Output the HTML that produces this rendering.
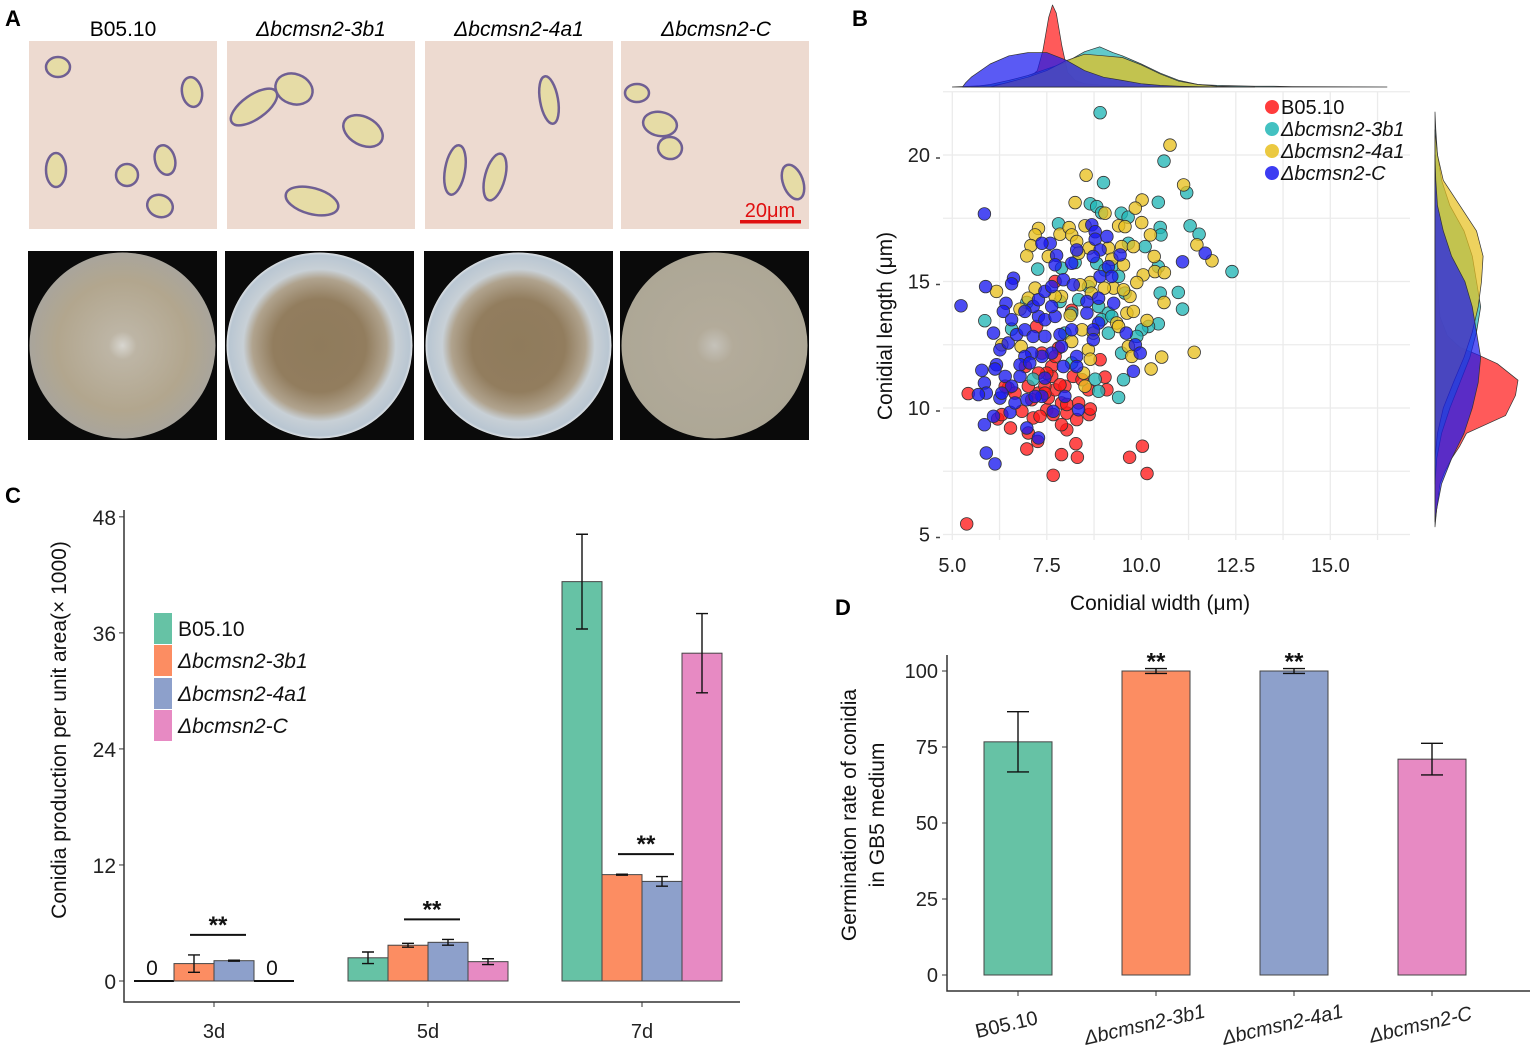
<!DOCTYPE html>
<html><head><meta charset="utf-8"><style>
html,body{margin:0;padding:0;background:#fff;}
svg{display:block;font-family:"Liberation Sans",Arial,sans-serif;}
</style></head><body>
<svg id="fig" width="1535" height="1049" viewBox="0 0 1535 1049" xmlns="http://www.w3.org/2000/svg">
<defs>
<radialGradient id="g1" cx="50%" cy="50%" r="50%"><stop offset="0" stop-color="#d8d6d0"/><stop offset="0.15" stop-color="#bdb5a5"/><stop offset="0.7" stop-color="#b2a68e"/><stop offset="1" stop-color="#a9a59c"/></radialGradient>
<radialGradient id="g2" cx="50%" cy="50%" r="50%"><stop offset="0" stop-color="#8f7b5c"/><stop offset="0.5" stop-color="#927d5e"/><stop offset="0.72" stop-color="#b0a38e"/><stop offset="0.82" stop-color="#c8d0d6"/><stop offset="0.97" stop-color="#b9c6d2"/><stop offset="1" stop-color="#dfe3e6"/></radialGradient>
<radialGradient id="g4" cx="50%" cy="50%" r="50%"><stop offset="0" stop-color="#c5c2ba"/><stop offset="0.2" stop-color="#b3ab9a"/><stop offset="1" stop-color="#ada796"/></radialGradient>
</defs>
<g id="panelA">
<text x="5" y="26" font-size="22" font-weight="bold">A</text>
<text x="123" y="36" font-size="21" text-anchor="middle">B05.10</text>
<text x="321" y="36" font-size="21" text-anchor="middle" font-style="italic">Δbcmsn2-3b1</text>
<text x="519" y="36" font-size="21" text-anchor="middle" font-style="italic">Δbcmsn2-4a1</text>
<text x="716" y="36" font-size="21" text-anchor="middle" font-style="italic">Δbcmsn2-C</text>
<g id="micro"></g>
<g id="plates"></g>
<text x="770" y="217" font-size="20" fill="#e01010" text-anchor="middle">20μm</text>
<rect x="740" y="220" width="61" height="3.5" fill="#e01010"/>
</g>
<g id="panelB"></g>
<g id="panelC"></g>
<g id="panelD"></g>
</svg>
<script>
// ---------- Panel B data ----------
const bSeriesNames = ["B05.10","Δbcmsn2-3b1","Δbcmsn2-4a1","Δbcmsn2-C"];
const redW = [5.38,7.67,10.15,9.69,10.03,6.97,7.89,8.31,8.27,7.26,8.03,6.54,6.2,5.42,6.48,6.84,7.14,7.5,7.67,8.03,8.29,8.62,8.65,7.89,7.54,7.28,7.72,7.98,7.45,7.01,6.66,9.04,9.09,8.6,8.91,8.2,7.63,7.37,7.81,7.63,7.23,8.16,7.72,7.5,7.85,7.28,6.93,8.03,8.43,7.72,7.1,6.31,6.4,8.34,7.32,7.89,7.01,7.45];
const redL = [5.42,7.34,7.41,8.05,8.49,8.38,8.16,8.05,8.59,8.68,9.14,9.21,9.57,10.57,10.79,9.87,9.61,9.93,9.74,9.8,9.54,9.74,9.96,10.2,10.4,10.59,10.72,10.86,10.86,10.86,10.59,11.22,10.72,10.72,11.91,11.25,11.64,12.17,12.37,11.25,13.22,13.86,15.0,11.38,10.92,11.38,11.64,10.14,11.12,12.04,10.33,9.74,10.86,10.2,9.67,9.34,9.01,10.59];
const tealW = [8.91,10.6,9.0,11.2,8.65,8.82,8.95,9.47,9.65,10.45,7.81,10.5,10.52,11.29,11.53,10.1,9.66,7.26,8.82,9.22,10.45,12.4,10.5,10.98,11.09,5.86,6.57,6.97,7.85,8.16,8.87,9.13,8.95,9.13,7.98,10.45,10.19,10.01,9.48,9.88,7.14,8.78,8.87,9.53,9.4,8.16,8.34,8.6,7.89,8.25,9.4,9.04,9.57,9.22];
const tealL = [21.67,19.76,18.91,18.51,18.07,17.96,17.72,17.7,17.54,18.13,17.28,17.14,16.84,17.2,16.87,16.38,16.51,15.49,15.72,15.59,15.59,15.39,14.54,14.57,13.91,13.45,13.12,14.17,14.21,13.75,14.01,13.75,13.49,12.96,12.96,13.33,13.22,13.09,12.17,12.83,11.14,11.14,10.66,11.12,10.42,11.78,14.28,14.8,15.53,15.75,15.2,15.46,14.54,13.62];
const yelW = [10.76,8.54,11.12,8.25,10.02,9.84,9.04,10.01,9.4,9.57,7.28,7.19,7.85,8.09,8.16,8.51,10.24,11.47,11.87,7.08,6.97,7.54,8.29,8.62,9.13,9.48,9.79,10.34,9.22,9.53,10.05,10.36,10.61,9.88,8.34,8.65,9.27,9.7,9.53,7.19,7.01,6.17,6.79,7.89,8.68,8.38,8.12,8.43,8.73,9.35,9.62,9.79,10.15,9.4,6.31,8.6,8.65,9.66,9.75,10.54,10.26,11.4,8.51,8.47,8.16,6.82,10.6,9.02,7.72];
const yelL = [20.39,19.2,18.82,18.12,18.22,17.9,17.7,17.33,17.2,17.17,17.1,16.84,16.87,17.13,16.84,17.2,16.84,16.45,15.82,16.42,16.01,15.99,16.58,16.32,16.32,16.38,16.38,15.99,15.88,15.66,15.26,15.39,15.35,14.96,16.12,14.96,14.74,14.41,14.67,14.74,14.34,14.61,13.91,14.41,14.54,14.87,13.66,13.09,12.96,13.36,13.75,13.82,13.46,13.22,12.5,12.3,11.93,12.43,12.04,12.01,11.54,12.2,10.86,11.38,12.63,12.43,14.17,14.74,14.41];
const bluW = [5.85,5.23,5.88,6.62,6.57,6.42,6.35,6.57,6.09,6.26,6.48,6.7,6.92,7.14,7.28,7.45,7.72,7.63,7.14,6.92,7.28,7.45,7.63,7.94,8.2,8.16,7.76,7.59,7.37,7.72,8.69,8.78,8.78,9.09,8.91,8.73,9.13,9.44,8.29,8.91,9.22,8.56,8.87,9.27,8.56,8.87,8.73,8.73,9.6,9.84,9.97,9.79,11.09,11.69,7.85,7.89,7.63,7.37,7.1,6.92,6.79,7.05,6.17,5.78,6.13,6.4,5.85,5.9,5.69,6.26,6.57,6.79,6.97,7.37,7.45,7.94,8.29,8.29,7.98,7.67,8.34,6.53,6.09,5.85,6.97,7.28,5.9,6.13,6.31,6.66,7.19,7.45,8.16];
const bluL = [17.67,14.04,14.8,15.13,14.91,14.14,13.82,13.49,12.96,12.3,12.57,12.9,13.09,12.83,13.62,13.49,13.62,14.01,14.01,13.82,14.28,14.61,14.8,15.07,14.87,15.72,16.03,16.51,16.51,15.66,17.24,16.97,16.67,16.78,16.25,15.99,15.59,16.05,16.25,15.2,15.2,14.21,14.34,14.14,13.75,13.36,13.09,12.7,12.96,12.5,12.17,11.45,15.78,16.12,12.9,12.43,12.17,12.04,12.17,12.04,11.71,11.78,11.71,11.49,11.54,11.25,10.99,10.59,10.53,10.39,10.86,11.25,10.33,10.46,11.18,11.64,12.04,11.64,10.46,9.87,9.93,9.83,9.67,9.34,9.21,8.82,8.22,7.79,10.59,10.2,10.46,12.83,13.09];
// marginal densities (relative), width axis
const dxRed = [5.0,6.0,6.5,7.0,7.25,7.4,7.55,7.65,7.75,7.9,8.05,8.25,8.5,9.0,10.0];
const ddRed = [0,0.02,0.05,0.1,0.2,0.45,0.85,1.0,0.9,0.5,0.18,0.08,0.04,0.02,0];
const dxTeal = [5.5,6,6.5,7,7.5,8,8.5,8.9,9.25,9.5,10,10.5,11,11.5,12,13,13.5,14,16.5];
const ddTeal = [0,0.03,0.08,0.14,0.22,0.3,0.43,0.49,0.42,0.38,0.28,0.17,0.08,0.03,0.02,0.01,0.01,0.005,0];
const dxYel = [6,6.5,7,7.5,8,8.5,9,9.5,10,10.5,11,11.5,12,13];
const ddYel = [0,0.06,0.12,0.2,0.32,0.4,0.38,0.36,0.27,0.16,0.07,0.03,0.01,0];
const dxBlu = [5.27,5.35,5.5,6.0,6.5,7.0,7.5,8.0,8.5,9.0,9.5,10,10.5,11,12];
const ddBlu = [0,0.05,0.12,0.28,0.38,0.42,0.42,0.33,0.2,0.12,0.08,0.04,0.02,0.01,0];
// marginal densities (relative), length axis
const dyRed = [5.3,6,7,7.5,8,8.5,9,9.7,10.5,11.1,11.75,12.1,12.4,12.85,13.6,15.2,16.8];
const ddRedL = [0,0.02,0.06,0.12,0.2,0.3,0.38,0.85,0.97,1.0,0.75,0.52,0.3,0.15,0.06,0.02,0];
const dyBlu = [5.5,6,7,8,9,10,11,12,13,14,15,16,17,18,19,20];
const ddBluL = [0,0.02,0.08,0.2,0.35,0.45,0.52,0.55,0.5,0.45,0.36,0.2,0.1,0.03,0.01,0];
const dyTeal = [7,8,9,10,11,12,13,14,15,16,17,18,19,20,21,21.7];
const ddTealL = [0,0.02,0.08,0.18,0.3,0.42,0.5,0.55,0.5,0.45,0.35,0.18,0.08,0.03,0.01,0];
const dyYel = [8,9,10,11,12,13,14,15,16,17,18,19,20,21];
const ddYelL = [0,0.03,0.1,0.22,0.35,0.45,0.52,0.56,0.58,0.5,0.3,0.1,0.03,0];
const bXTicks = [5.0,7.5,10.0,12.5,15.0];
const bXTickLabels = ["5.0","7.5","10.0","12.5","15.0"];
const bYTicks = [5,10,15,20];

// ---------- Panel C data ----------
const cDays = [3,5,7];
const cDayLabels = ["3d","5d","7d"];
const cStrains = ["B05.10","Δbcmsn2-3b1","Δbcmsn2-4a1","Δbcmsn2-C"];
const cB0510 = [0,2.4,41.3];
const c3b1 = [1.8,3.7,11.0];
const c4a1 = [2.1,4.0,10.3];
const cC = [0,2.0,33.9];
const cErrB0510 = [0,0.6,4.9];
const cErr3b1 = [0.9,0.2,0.05];
const cErr4a1 = [0.05,0.3,0.5];
const cErrC = [0,0.3,4.1];
const cYTicks = [0,12,24,36,48];

// ---------- Panel D data ----------
const dStrains = ["B05.10","Δbcmsn2-3b1","Δbcmsn2-4a1","Δbcmsn2-C"];
const dValues = [76.7,100,100,71.0];
const dErrors = [9.9,0.8,0.8,5.2];
const dSig = ["","**","**",""];
const dYTicks = [0,25,50,75,100];

const NS="http://www.w3.org/2000/svg";
function mk(tag,attrs,parent){const e=document.createElementNS(NS,tag);for(const k in attrs)e.setAttribute(k,attrs[k]);parent.appendChild(e);return e;}

// ---------- Panel A drawings ----------
(function(){
  const micro=document.getElementById('micro');
  const px=[29,227,425,621];
  const spores=[
    [[58,67,12,10,0],[192,92,10,15,-10],[56,170,10,17,0],[127,175,11,11,0],[165,160,10,15,-15],[160,206,13,11,20]],
    [[254,107,27,12,-35],[294,89,19,15,20],[363,131,21,14,28],[312,201,27,13,15]],
    [[549,100,9,24,-10],[455,170,10,25,10],[495,177,10,24,15]],
    [[637,93,12,9,0],[660,124,17,12,10],[670,148,12,11,10],[793,182,10,18,-20]]
  ];
  px.forEach((x,i)=>{
    const r=mk('rect',{x:x,y:41,width:188,height:188,fill:'#eddad0'},micro);
    
    
    spores[i].forEach(s=>{
      const e=mk('ellipse',{cx:s[0],cy:s[1],rx:s[2],ry:s[3],fill:'#e6dca6',stroke:'#6f5f93','stroke-width':2.5,transform:`rotate(${s[4]} ${s[0]} ${s[1]})`},micro);
      
      
    });
  });
  const plates=document.getElementById('plates');
  const grads=['g1','g2','g2','g4'];
  [28,225,424,620].forEach((x,i)=>{
    const r=mk('rect',{x:x,y:251,width:189,height:189,fill:'#0a0a0a'},plates);
    
    
    const c=mk('circle',{cx:x+94.5,cy:345.5,r:93,fill:'url(#'+grads[i]+')'},plates);
    
    
  });
})();

// ---------- Panel B ----------
(function(){
  const g=document.getElementById('panelB');
  const X=v=>952.3+(v-5)*37.8;
  const Y=v=>155+(20-v)*25.3;
  const t=mk('text',{x:852,y:26,'font-size':22,'font-weight':'bold'},g);t.textContent='B';
  
  const left=943,right=1410,top=92,bot=540;
  for(let v=5;v<=16.25;v+=1.25){const l=mk('line',{x1:X(v),x2:X(v),y1:top,y2:bot,stroke:'#ebebeb','stroke-width':1.3},g);}
  for(let v=5;v<=22.5;v+=2.5){const l=mk('line',{x1:left,x2:right,y1:Y(v),y2:Y(v),stroke:'#ebebeb','stroke-width':1.3},g);}
  bXTicks.forEach((v,i)=>{const tx=mk('text',{x:X(v),y:572,'font-size':20,'text-anchor':'middle',fill:'#222'},g);tx.textContent=bXTickLabels[i];});
  bYTicks.forEach(v=>{const tx=mk('text',{x:930,y:Y(v)+7,'font-size':20,'text-anchor':'end',fill:'#222'},g);tx.textContent=String(v);
    const tk=mk('line',{x1:936,x2:940,y1:Y(v)+3,y2:Y(v)+3,stroke:'#444','stroke-width':1.5},g);});
  const xt=mk('text',{x:1160,y:610,'font-size':21,'text-anchor':'middle',fill:'#111'},g);xt.textContent='Conidial width (μm)';
  
  const yt=mk('text',{x:0,y:0,'font-size':21,'text-anchor':'middle',fill:'#111',transform:'translate(892,326) rotate(-90)'},g);yt.textContent='Conidial length (μm)';
  
  const cols=['#ff1a1a','#22b6b6','#e8c020','#1a1af0'];
  function topPath(xs,ds){let d=`M${X(xs[0])},87`;xs.forEach((x,i)=>{d+=` L${X(x).toFixed(1)},${(87-ds[i]*82).toFixed(1)}`;});d+=` L${X(xs[xs.length-1])},87 Z`;return d;}
  function rightPath(ys,ds){let d=`M1435,${Y(ys[0])}`;ys.forEach((y,i)=>{d+=` L${(1435+ds[i]*83).toFixed(1)},${Y(y).toFixed(1)}`;});d+=` L1435,${Y(ys[ys.length-1])} Z`;return d;}
  const tops=[[dxRed,ddRed,0],[dxTeal,ddTeal,1],[dxYel,ddYel,2],[dxBlu,ddBlu,3]];
  tops.forEach(a=>{const p=mk('path',{d:topPath(a[0],a[1]),fill:cols[a[2]],'fill-opacity':0.72,stroke:'#333','stroke-width':0.7,'stroke-linejoin':'round'},g);});
  const rights=[[dyRed,ddRedL,0],[dyTeal,ddTealL,1],[dyYel,ddYelL,2],[dyBlu,ddBluL,3]];
  rights.forEach(a=>{const p=mk('path',{d:rightPath(a[0],a[1]),fill:cols[a[2]],'fill-opacity':0.72,stroke:'#333','stroke-width':0.7,'stroke-linejoin':'round'},g);});
  const sets=[[redW,redL,0],[tealW,tealL,1],[yelW,yelL,2],[bluW,bluL,3]];
  sets.forEach(s=>{s[0].forEach((w,i)=>{const c=mk('circle',{cx:X(w).toFixed(1),cy:Y(s[1][i]).toFixed(1),r:6.3,fill:cols[s[2]],'fill-opacity':0.78,stroke:'#333','stroke-width':0.8},g);
    });});
  const ly=[114,136,158,180];
  bSeriesNames.forEach((n,i)=>{const c=mk('circle',{cx:1272,cy:ly[i]-7,r:7,fill:cols[i],'fill-opacity':0.85},g);
    const tx=mk('text',{x:1281,y:ly[i],'font-size':20,fill:'#111','font-style':i?'italic':'normal'},g);tx.textContent=n;});
})();

// ---------- Panel C ----------
(function(){
  const g=document.getElementById('panelC');
  const Y=v=>981-v*9.67;
  const X=d=>214+(d-3)*107;
  const bw=40;
  const cols=['#66c2a5','#fc8d62','#8da0cb','#e78ac3'];
  const t=mk('text',{x:5,y:503,'font-size':22,'font-weight':'bold'},g);t.textContent='C';
  const ax=mk('path',{d:'M124,510 L124,1002 L740,1002',fill:'none',stroke:'#333','stroke-width':1.5},g);
  cYTicks.forEach(v=>{const tx=mk('text',{x:116,y:Y(v)+8,'font-size':21,'text-anchor':'end',fill:'#222'},g);tx.textContent=String(v);
    const tk=mk('line',{x1:119,x2:124,y1:Y(v),y2:Y(v),stroke:'#333'},g);});
  const series=[cB0510,c3b1,c4a1,cC], errs=[cErrB0510,cErr3b1,cErr4a1,cErrC];
  cDays.forEach((d,di)=>{
    const gx=X(d)-2*bw;
    const tk=mk('line',{x1:X(d),x2:X(d),y1:1002,y2:1007,stroke:'#333'},g);
    const tx=mk('text',{x:X(d),y:1038,'font-size':20,'text-anchor':'middle',fill:'#222'},g);tx.textContent=cDayLabels[di];
    series.forEach((s,si)=>{
      const v=s[di],x=gx+si*bw;
      if(v===0){const l=mk('line',{x1:x,x2:x+bw,y1:Y(0),y2:Y(0),stroke:'#111','stroke-width':2},g);
        const z=mk('text',{x:x+bw/2-2,y:Y(0)-6,'font-size':21,'text-anchor':'middle',fill:'#111'},g);z.textContent='0';return;}
      const r=mk('rect',{x:x,y:Y(v),width:bw,height:Y(0)-Y(v),fill:cols[si],stroke:'#444','stroke-width':1},g);
      const e=errs[si][di],cx=x+bw/2;
      const eb=mk('path',{d:`M${cx},${Y(v+e)} L${cx},${Y(v-e)} M${cx-6},${Y(v+e)} L${cx+6},${Y(v+e)} M${cx-6},${Y(v-e)} L${cx+6},${Y(v-e)}`,stroke:'#111','stroke-width':1.4,fill:'none'},g);
      
    });
    const top=Math.max(c3b1[di]+cErr3b1[di],c4a1[di]+cErr4a1[di]);
    const ly=Y(top)-20;
    const sl=mk('line',{x1:gx+bw*1.4,x2:gx+bw*2.8,y1:ly,y2:ly,stroke:'#111','stroke-width':2},g);
    const st=mk('text',{x:gx+bw*2.1,y:ly-2,'font-size':24,'text-anchor':'middle','font-weight':'bold',fill:'#111'},g);st.textContent='**';
  });
  const ly=[613,645,678,710];
  cStrains.forEach((n,i)=>{const r=mk('rect',{x:154,y:ly[i],width:18,height:31,fill:cols[i]},g);
    const tx=mk('text',{x:178,y:ly[i]+23,'font-size':21,fill:'#111','font-style':i?'italic':'normal'},g);tx.textContent=n;});
  const yt=mk('text',{x:0,y:0,'font-size':21,'text-anchor':'middle',fill:'#111',transform:'translate(66,730) rotate(-90)'},g);yt.textContent='Conidia production per unit area(× 1000)';
  
})();

// ---------- Panel D ----------
(function(){
  const g=document.getElementById('panelD');
  const Y=v=>975-v*3.04;
  const X=i=>1018+i*138;
  const bw=68;
  const cols=['#66c2a5','#fc8d62','#8da0cb','#e78ac3'];
  const t=mk('text',{x:835,y:615,'font-size':22,'font-weight':'bold'},g);t.textContent='D';
  const ax=mk('path',{d:'M947,655 L947,991 L1530,991',fill:'none',stroke:'#333','stroke-width':1.5},g);
  dYTicks.forEach(v=>{const tx=mk('text',{x:938,y:Y(v)+7,'font-size':20,'text-anchor':'end',fill:'#222'},g);tx.textContent=String(v);
    const tk=mk('line',{x1:942,x2:947,y1:Y(v),y2:Y(v),stroke:'#333'},g);});
  dStrains.forEach((n,i)=>{
    const v=dValues[i],e=dErrors[i],cx=X(i);
    const r=mk('rect',{x:cx-bw/2,y:Y(v),width:bw,height:Y(0)-Y(v),fill:cols[i],stroke:'#444','stroke-width':1},g);
    const eb=mk('path',{d:`M${cx},${Y(v+e)} L${cx},${Y(v-e)} M${cx-11},${Y(v+e)} L${cx+11},${Y(v+e)} M${cx-11},${Y(v-e)} L${cx+11},${Y(v-e)}`,stroke:'#111','stroke-width':1.4,fill:'none'},g);
    
    if(dSig[i]){const s=mk('text',{x:cx,y:Y(v+e)+1,'font-size':24,'font-weight':'bold','text-anchor':'middle',fill:'#111'},g);s.textContent=dSig[i];}
    const tk=mk('line',{x1:cx,x2:cx,y1:991,y2:996,stroke:'#333'},g);
    const tx=mk('text',{x:0,y:0,'font-size':20,'text-anchor':'middle',fill:'#222',transform:`translate(${cx-10},${1031}) rotate(-13)`,'font-style':i?'italic':'normal'},g);
    tx.textContent=n;
  });
  const y1=mk('text',{x:0,y:0,'font-size':21,'text-anchor':'middle',fill:'#111',transform:'translate(856,815) rotate(-90)'},g);y1.textContent='Germination rate of conidia';
  
  const y2=mk('text',{x:0,y:0,'font-size':21,'text-anchor':'middle',fill:'#111',transform:'translate(884,815) rotate(-90)'},g);y2.textContent='in GB5 medium';
  
})();
</script>
</body></html>
